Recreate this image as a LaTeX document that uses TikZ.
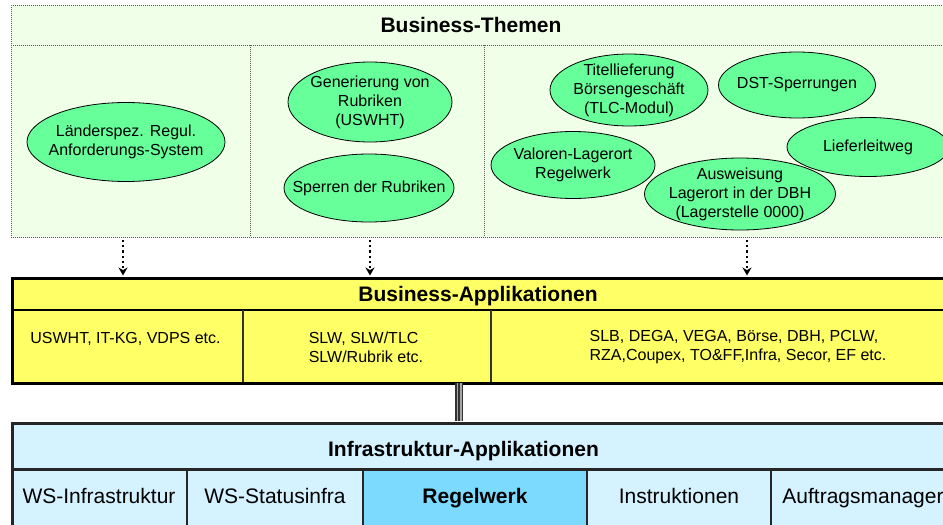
\documentclass[tikz,border=0pt]{standalone}
\usepackage{fontspec}
\setmainfont{Liberation Sans}
\usepackage{tikz}
\usetikzlibrary{shapes,arrows.meta,positioning}

\definecolor{themagruen}{RGB}{240,255,232}
\definecolor{blasegruen}{RGB}{102,255,153}
\definecolor{appgelb}{RGB}{255,255,102}
\definecolor{infrablau}{RGB}{212,242,255}
\definecolor{regelblau}{RGB}{125,218,255}

\begin{document}
\begin{tikzpicture}[x=1pt,y=-1pt,
    thema/.style={ellipse,draw,line width=0.8pt,fill=blasegruen,inner sep=-20pt,align=center,font=\fontsize{16}{19}\selectfont},
    rahmen/.style={rectangle,anchor=north west,minimum width=949pt,inner sep=0pt},
    punktiert/.style={draw=black!65,line width=0.8pt,dash pattern=on 0.8pt off 1.2pt},
    titel/.style={anchor=base,font=\fontsize{21}{25}\selectfont\bfseries},
    apptext/.style={align=left,font=\fontsize{16}{19}\selectfont},
    zelle/.style={rectangle,inner sep=0pt,minimum height=56pt,text height=15pt,text depth=5pt,font=\fontsize{21}{25}\selectfont},
    pfeil/.style={line width=2.2pt,dash pattern=on 2.2pt off 3pt,shorten >=1pt,-{Stealth[length=8pt,width=9pt]}},
    doppel/.style={draw=black!80,line width=1.2pt,double=black!35,double distance=5pt}]
    \useasboundingbox (0,0) rectangle (943,525);

    \node[rahmen,punktiert,fill=themagruen,minimum height=232pt] (themen) at (11,5) {};
    \draw[punktiert] (11,45) -- (960,45) (250,45) -- (250,237) (484,45) -- (484,237);
    \node[titel] (themenkopf) at (471,32) {Business-Themen};

    \node[thema,minimum width=198pt,minimum height=79pt] (laender) at (126,142) {Länderspez. Regul.\\Anforderungs-System};
    \node[thema,minimum width=164pt,minimum height=80pt] (generierung) at (370,102) {Generierung von\\Rubriken\\(USWHT)};
    \node[thema,minimum width=170pt,minimum height=68pt] (sperren) at (369,188) {Sperren der Rubriken};
    \node[thema,minimum width=158pt,minimum height=72pt] (titelliefer) at (629,90) {Titellieferung\\Börsengeschäft\\(TLC-Modul)};
    \node[thema,minimum width=157pt,minimum height=66pt] (dst) at (797,85) {DST-Sperrungen};
    \node[thema,minimum width=162pt,minimum height=59pt] (lieferweg) at (868,147) {Lieferleitweg};
    \node[thema,minimum width=164pt,minimum height=67pt] (valoren) at (573,165) {Valoren-Lagerort\\Regelwerk};
    \node[thema,minimum width=191pt,minimum height=72pt] (ausweisung) at (740,194) {Ausweisung\\Lagerort in der DBH\\(Lagerstelle 0000)};

    \node[rahmen,draw,line width=3pt,fill=appgelb,minimum height=105pt] (bapp) at (11,276.5) {};
    \draw[line width=2pt] (11,310) -- (960,310);
    \draw[line width=1.5pt,draw=black!80] (243,310) -- (243,381.5) (491,310) -- (491,381.5);
    \node[titel] (bappkopf) at (478,301) {Business-Applikationen};
    \node[apptext,anchor=base] (uswht) at (125.5,343) {USWHT, IT-KG, VDPS etc.};
    \node[apptext] (slw) at (366,347) {SLW, SLW/TLC\\SLW/Rubrik etc.};
    \node[apptext] (slb) at (738,347.5) {SLB, DEGA, VEGA, Börse, DBH, PCLW,\\RZA,Coupex, TO\&FF,Infra, Secor, EF etc.};

    \node[rahmen,draw=black!85,line width=2.5pt,fill=infrablau,minimum height=105pt] (infra) at (11,422) {};
    \node[zelle,fill=regelblau,minimum width=224pt,font=\fontsize{21}{25}\selectfont\bfseries] (regelwerk) at (475,498.5) {Regelwerk};
    \draw[line width=2.5pt,draw=black!85] (11,469.5) -- (960,469.5);
    \draw[line width=1.7pt,draw=black!85] (187,469.5) -- (187,527) (363,469.5) -- (363,527) (587,469.5) -- (587,527) (771,469.5) -- (771,527);
    \node[titel] (infrakopf) at (463.5,456) {Infrastruktur-Applikationen};
    \node[zelle] (wsinfra) at (99,498.5) {WS-Infrastruktur};
    \node[zelle] (wsstatus) at (275,498.5) {WS-Statusinfra};
    \node[zelle] (instruktionen) at (679,498.5) {Instruktionen};
    \node[zelle] (auftrag) at (863,498.5) {Auftragsmanager};

    \coordinate (p1) at (123,240);
    \coordinate (p2) at (370,240);
    \coordinate (p3) at (747,240);
    \path[pfeil]
        (p1) edge (p1 |- bapp.north)
        (p2) edge (p2 |- bapp.north)
        (p3) edge (p3 |- bapp.north);
    \coordinate (v) at (459,383);
    \draw[doppel,shorten >=1.2pt] (v) -- (v |- infra.north);
    \draw[line width=1.2pt,draw=black!80,shorten >=1.2pt] (v) -- (v |- infra.north);
\end{tikzpicture}
\end{document}
